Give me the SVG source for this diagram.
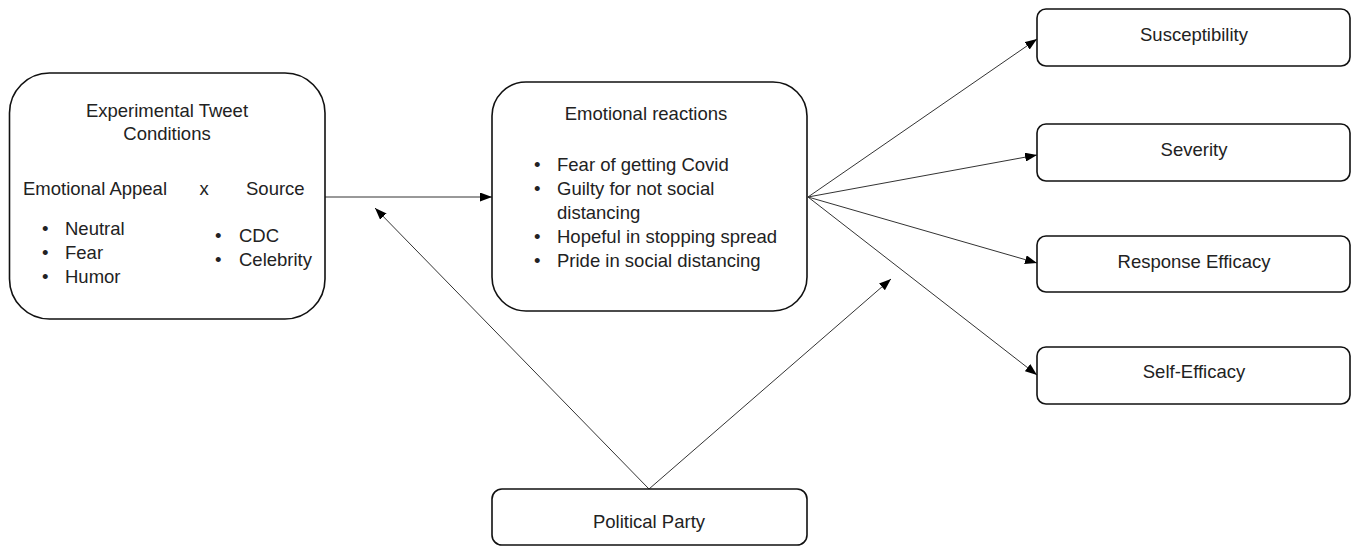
<svg xmlns="http://www.w3.org/2000/svg" width="1360" height="546" viewBox="0 0 1360 546">
<defs>
<style>
.box{fill:#fff;stroke:#111;stroke-width:1.6}
.t{font-family:"Liberation Sans",Arial,sans-serif;font-size:18.5px;fill:#222}
.c{text-anchor:middle}
.ln{stroke:#333;stroke-width:1;fill:none;marker-end:url(#arr)}
</style>
<marker id="arr" markerUnits="userSpaceOnUse" markerWidth="12" markerHeight="9" refX="12" refY="4.5" orient="auto">
<path d="M0,0 L12,4.5 L0,9 z" fill="#000"/>
</marker>
</defs>
<rect width="1360" height="546" fill="#fff"/>
<g id="connectors">
<line class="ln" x1="325" y1="197" x2="492" y2="197"/>
<line class="ln" x1="649" y1="489" x2="375" y2="208"/>
<line class="ln" x1="649" y1="489" x2="891" y2="279"/>
<line class="ln" x1="808" y1="197" x2="1037" y2="39"/>
<line class="ln" x1="808" y1="197" x2="1037" y2="155"/>
<line class="ln" x1="808" y1="197" x2="1037" y2="263"/>
<line class="ln" x1="808" y1="197" x2="1037" y2="375"/>
</g>
<g id="experimental">
<rect class="box" x="9.5" y="73" width="315.5" height="246" rx="40"/>
<text class="t c" x="167" y="117">Experimental Tweet</text>
<text class="t c" x="167" y="140">Conditions</text>
<text class="t" x="23" y="195">Emotional Appeal</text>
<text class="t c" x="204" y="195">x</text>
<text class="t" x="246" y="195">Source</text>
<text class="t" x="42" y="235">•</text><text class="t" x="65" y="235">Neutral</text>
<text class="t" x="42" y="259">•</text><text class="t" x="65" y="259">Fear</text>
<text class="t" x="42" y="283">•</text><text class="t" x="65" y="283">Humor</text>
<text class="t" x="215" y="242">•</text><text class="t" x="239" y="242">CDC</text>
<text class="t" x="215" y="266">•</text><text class="t" x="239" y="266">Celebrity</text>
</g>
<g id="emotional">
<rect class="box" x="492" y="82" width="315" height="229" rx="34"/>
<text class="t c" x="646" y="120">Emotional reactions</text>
<text class="t" x="534" y="171">•</text><text class="t" x="557" y="171">Fear of getting Covid</text>
<text class="t" x="534" y="195">•</text><text class="t" x="557" y="195">Guilty for not social</text>
<text class="t" x="557" y="219">distancing</text>
<text class="t" x="534" y="243">•</text><text class="t" x="557" y="243">Hopeful in stopping spread</text>
<text class="t" x="534" y="267">•</text><text class="t" x="557" y="267">Pride in social distancing</text>
</g>
<g id="party">
<rect class="box" x="492" y="489" width="315" height="56" rx="10"/>
<text class="t c" x="649" y="528">Political Party</text>
</g>
<g id="susceptibility">
<rect class="box" x="1037" y="9" width="313" height="57" rx="9"/>
<text class="t c" x="1194" y="41">Susceptibility</text>
</g>
<g id="severity">
<rect class="box" x="1037" y="124" width="313" height="57" rx="9"/>
<text class="t c" x="1194" y="156">Severity</text>
</g>
<g id="response">
<rect class="box" x="1037" y="236" width="313" height="56" rx="9"/>
<text class="t c" x="1194" y="268">Response Efficacy</text>
</g>
<g id="selfefficacy">
<rect class="box" x="1037" y="347" width="313" height="57" rx="9"/>
<text class="t c" x="1194" y="378">Self-Efficacy</text>
</g>
</svg>
